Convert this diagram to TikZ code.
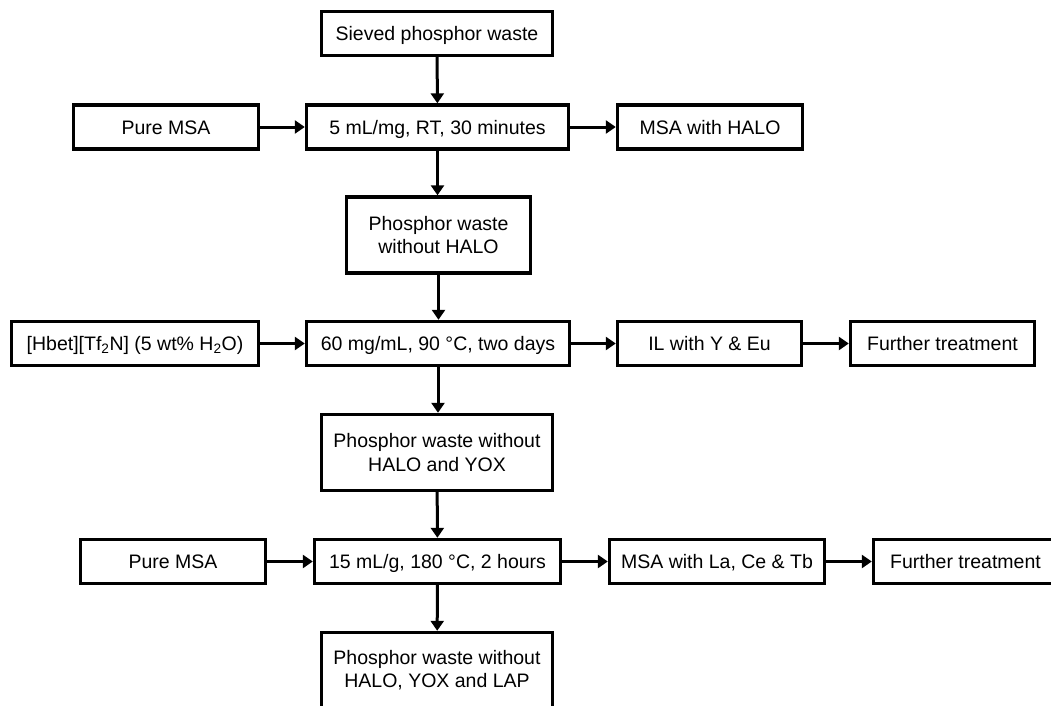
\documentclass[tikz,border=0pt]{standalone}
\usepackage{fontspec}
\setmainfont{Liberation Sans}
\usetikzlibrary{arrows.meta}

\tikzset{
  box/.style={draw=black, line width=3.4pt, fill=white, inner sep=0pt,
    align=center, font=\fontsize{19.5}{23.3}\selectfont,
    minimum height=44pt, text height=14pt, text depth=0pt},
  tall/.style={minimum height=76pt, text height={}, text depth={}},
  link/.style={line width=3pt, -{Triangle[length=10pt,width=13pt]}},
}

\begin{document}
\begin{tikzpicture}[x=1pt, y=-1pt]
\useasboundingbox (0,0) rectangle (1051,706);

% main column
\node[box, minimum width=231pt] (sieved) at (437,33.5) {Sieved phosphor waste};
\node[box, minimum width=262pt] (cond1) at (437.5,127) {5 mL/mg, RT, 30 minutes};
\node[box, tall, minimum width=184pt] (pw1) at (438.5,235) {Phosphor waste\\without HALO};
\node[box, minimum width=263pt] (cond2) at (438,343.5) {60 mg/mL, 90 °C, two days};
\node[box, tall, minimum width=231pt] (pw2) at (437,452.5) {Phosphor waste without\\HALO and YOX};
\node[box, minimum width=246pt] (cond3) at (437.5,561.5) {15 mL/g, 180 °C, 2 hours};
\node[box, tall, minimum width=231pt] (pw3) at (437,670.5) {Phosphor waste without\\HALO, YOX and LAP};

% first stage inputs and outputs
\node[box, minimum width=185pt] (msa1) at (166,127) {Pure MSA};
\node[box, minimum width=185pt] (halo) at (710,127) {MSA with HALO};

% second stage inputs and outputs
\node[box, minimum width=247pt] (hbet) at (135,343.5) {[Hbet][Tf\textsubscript{2}N] (5 wt\% H\textsubscript{2}O)};
\node[box, minimum width=184pt] (il) at (709.5,343.5) {IL with Y \& Eu};
\node[box, minimum width=184pt] (ft1) at (942.5,343.5) {Further treatment};

% third stage inputs and outputs
\node[box, minimum width=185pt] (msa2) at (173,561.5) {Pure MSA};
\node[box, minimum width=215pt] (lap) at (717,561.5) {MSA with La, Ce \& Tb};
\node[box, minimum width=184pt] (ft2) at (965.5,561.5) {Further treatment};

% vertical flow
\draw[link] (sieved) -- (cond1);
\draw[link] (cond1) -- (pw1.north -| cond1);
\draw[link] (pw1) -- (cond2.north -| pw1);
\draw[link] (cond2) -- (pw2.north -| cond2);
\draw[link] (pw2) -- (cond3);
\draw[link] (cond3) -- (pw3);

% horizontal flow
\draw[link] (msa1) -- (cond1);
\draw[link] (cond1) -- (halo);
\draw[link] (hbet) -- (cond2);
\draw[link] (cond2) -- (il);
\draw[link] (il) -- (ft1);
\draw[link] (msa2) -- (cond3);
\draw[link] (cond3) -- (lap);
\draw[link] (lap) -- (ft2);
\end{tikzpicture}
\end{document}
